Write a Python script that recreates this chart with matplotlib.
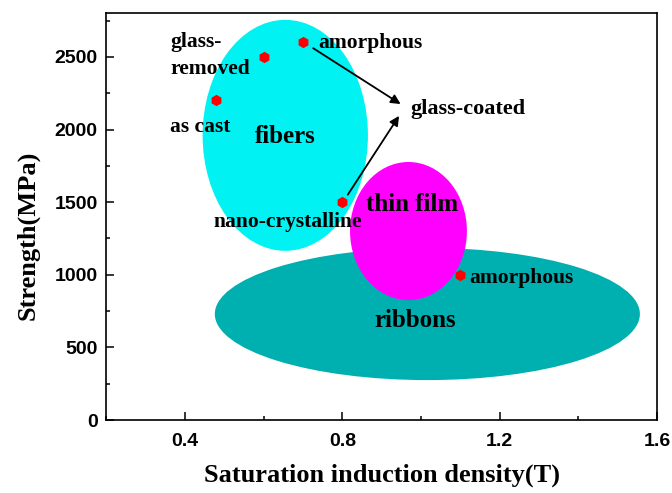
import matplotlib
matplotlib.use('Agg')
from matplotlib import pyplot as plt
from matplotlib.patches import Ellipse
from matplotlib.ticker import MultipleLocator

# region ellipses: center x, center y, width, height
regions = ['ribbons', 'fibers', 'thin film']
region_cx = [1.016, 0.655, 0.968]
region_cy = [730, 1960, 1301]
region_w = [1.08, 0.42, 0.297]
region_h = [910, 1590, 951]
region_colors = ['#00AFAF', '#00F2F2', '#FF00FF']
region_label_xy = [(0.985, 685), (0.655, 1955), (0.977, 1482)]

# data points
pt_names = ['as cast', 'glass-\nremoved', 'amorphous', 'nano-crystalline', 'amorphous']
pt_x = [0.48, 0.60, 0.70, 0.80, 1.10]
pt_y = [2200, 2500, 2600, 1500, 1000]

serif = 'Liberation Serif'
sans = 'Liberation Sans'

fig = plt.figure(figsize=(6.72, 4.93), dpi=100)
ax = fig.add_axes([0.158, 0.148, 0.82, 0.825])

for i in range(len(regions)):
    e = Ellipse((region_cx[i], region_cy[i]), region_w[i], region_h[i],
                facecolor=region_colors[i], edgecolor='none', zorder=1 + i)
    ax.add_patch(e)
    ax.text(region_label_xy[i][0], region_label_xy[i][1], regions[i],
            ha='center', va='center', fontsize=18, fontweight='bold',
            family=serif, zorder=10)

ax.plot(pt_x, pt_y, linestyle='none', marker='h', markersize=7,
        color='#FF0000', zorder=8)

# point labels
fs = 15.5
ax.text(0.363, 2018, pt_names[0], ha='left', va='center', fontsize=fs,
        fontweight='bold', family=serif, zorder=10)
ax.text(0.363, 2510, pt_names[1], ha='left', va='center', fontsize=fs,
        fontweight='bold', family=serif, linespacing=1.45, zorder=10)
ax.text(0.738, 2596, pt_names[2], ha='left', va='center', fontsize=fs,
        fontweight='bold', family=serif, zorder=10)
ax.text(0.662, 1364, pt_names[3], ha='center', va='center', fontsize=fs,
        fontweight='bold', family=serif, zorder=10)
ax.text(1.122, 975, pt_names[4], ha='left', va='center', fontsize=fs,
        fontweight='bold', family=serif, zorder=10)
ax.text(0.972, 2138, 'glass-coated', ha='left', va='center', fontsize=16,
        fontweight='bold', family=serif, zorder=10)

# arrows to glass-coated
arrow_kw = dict(arrowstyle='-|>', color='black', lw=1.3, mutation_scale=14)
ax.annotate('', xy=(0.954, 2165), xytext=(0.72, 2570),
            arrowprops=arrow_kw, zorder=9)
ax.annotate('', xy=(0.948, 2110), xytext=(0.81, 1535),
            arrowprops=arrow_kw, zorder=9)

ax.set_xlim(0.2, 1.6)
ax.set_ylim(0, 2800)
ax.xaxis.set_minor_locator(MultipleLocator(0.2))
ax.yaxis.set_major_locator(MultipleLocator(500))
ax.yaxis.set_minor_locator(MultipleLocator(250))
ax.set_xticks([0.4, 0.8, 1.2, 1.6])
ax.set_xticklabels(['0.4', '0.8', '1.2', '1.6'])
ax.tick_params(which='both', direction='in', top=False, right=False, width=1.1)
ax.tick_params(which='major', length=6)
ax.tick_params(which='minor', length=3)
for lab in ax.get_xticklabels() + ax.get_yticklabels():
    lab.set_fontfamily(sans)
    lab.set_fontweight('bold')
    lab.set_fontsize(14)
ax.tick_params(axis='x', pad=9)
ax.tick_params(axis='y', pad=6)
for s in ax.spines.values():
    s.set_linewidth(1.2)

ax.set_xlabel('Saturation induction density(T)', fontsize=19,
              fontweight='bold', family=serif, labelpad=10)
ax.set_ylabel('Strength(MPa)', fontsize=19, fontweight='bold', family=serif)
ax.yaxis.set_label_coords(-0.12, 0.455)

fig.savefig('out.png', dpi=100)
